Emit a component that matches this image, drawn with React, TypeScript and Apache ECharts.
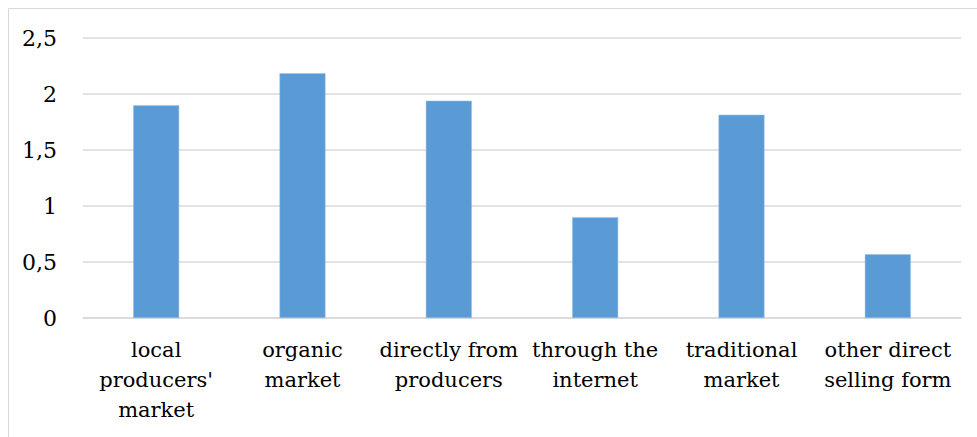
import React, { useEffect, useRef } from "react";
import * as echarts from "echarts";

const categories = [
  "local\nproducers'\nmarket",
  "organic\nmarket",
  "directly from\nproducers",
  "through the\ninternet",
  "traditional\nmarket",
  "other direct\nselling form",
];
const values = [1.9, 2.185, 1.94, 0.9, 1.815, 0.57];
const yTicks = { min: 0, max: 2.5, interval: 0.5 };

export default function App() {
  const ref = useRef<HTMLDivElement>(null);
  useEffect(() => {
    document.body.style.margin = "0";
    const chart = echarts.init(ref.current!, null, { renderer: "svg" });
    chart.setOption({
      animation: false,
      backgroundColor: "#ffffff",
      graphic: [
        {
          type: "rect",
          shape: { x: 8.5, y: 8.5, width: 1000, height: 500 },
          style: { fill: "none", stroke: "#d9d9d9", lineWidth: 1 },
          silent: true,
        },
      ],
      grid: { left: 83, right: 16, top: 38, bottom: 119 },
      xAxis: {
        type: "category",
        data: categories,
        axisLine: { lineStyle: { color: "#d9d9d9", width: 1.5 } },
        axisTick: { show: false },
        axisLabel: {
          interval: 0,
          color: "#000",
          fontFamily: "DejaVu Serif",
          fontSize: 21,
          lineHeight: 30,
          margin: 17,
        },
      },
      yAxis: {
        type: "value",
        min: yTicks.min,
        max: yTicks.max,
        interval: yTicks.interval,
        axisLine: { show: false },
        axisTick: { show: false },
        splitLine: { lineStyle: { color: "#d9d9d9", width: 1.5 } },
        axisLabel: {
          color: "#000",
          fontFamily: "DejaVu Serif",
          fontSize: 22,
          margin: 26,
          formatter: (v: number) => String(v).replace(".", ","),
        },
      },
      series: [
        {
          type: "bar",
          data: values,
          barWidth: 46,
          itemStyle: { color: "#5b9bd5", borderColor: "#9dc3e6", borderWidth: 0.5 },
        },
      ],
    });
    return () => chart.dispose();
  }, []);
  return <div ref={ref} style={{ width: 977, height: 437 }} />;
}
